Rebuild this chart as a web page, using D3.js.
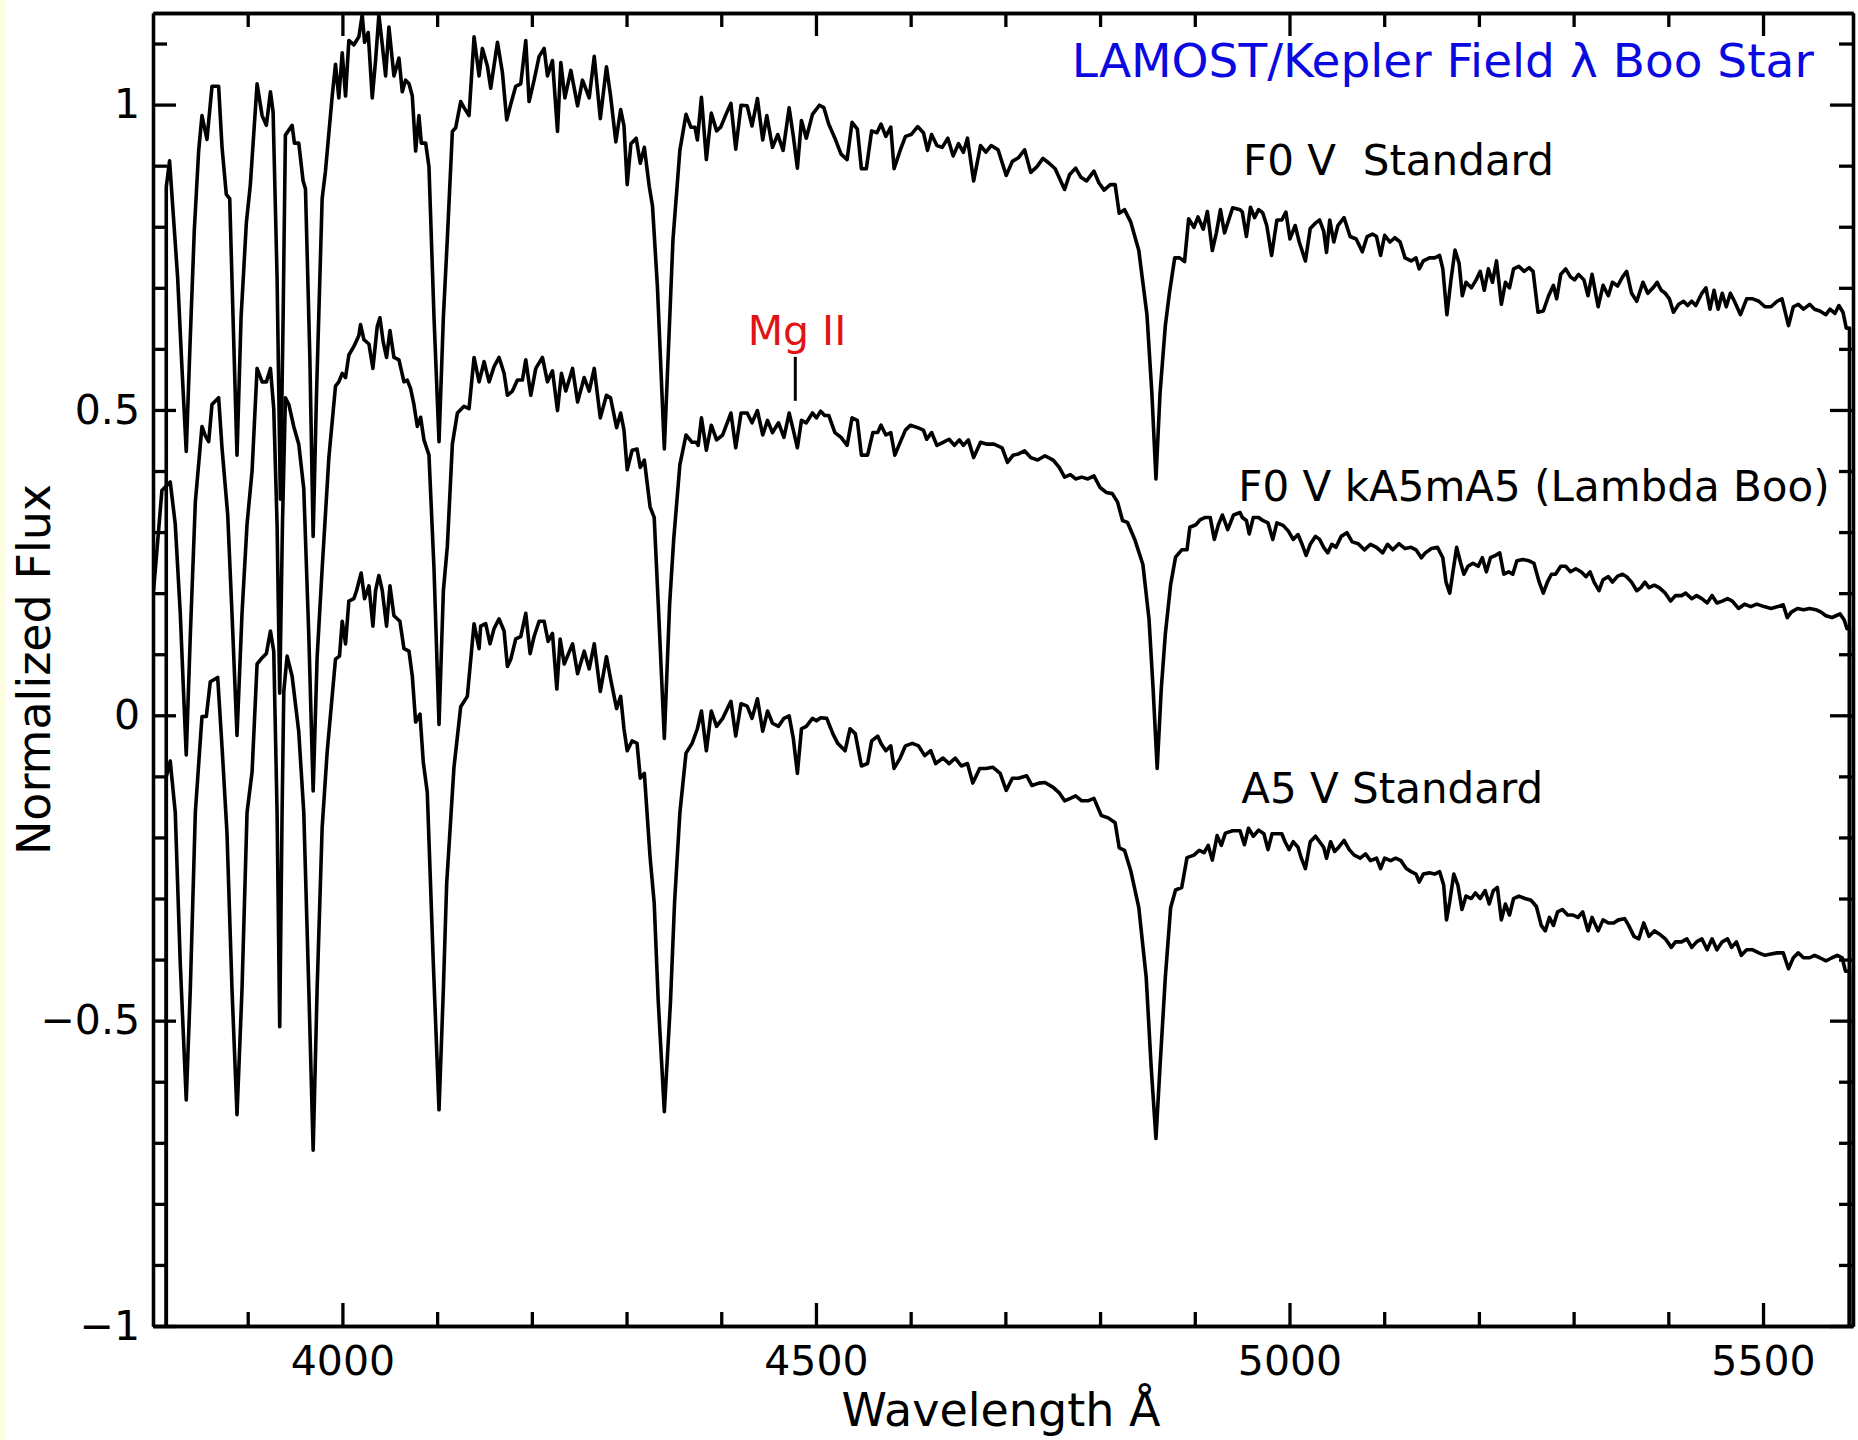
<!DOCTYPE html>
<html>
<head>
<meta charset="utf-8">
<script src="https://cdn.jsdelivr.net/npm/d3@7"></script>
<style>
  body { margin: 0; background: #fff; }
  svg { display: block; font-family: "DejaVu Sans", sans-serif; }
</style>
</head>
<body>
<svg id="chart" width="1858" height="1440"></svg>
<script>
// spectra: [wavelength (A), normalized flux]
// F0 V standard (top)
const f0Standard = [
  [3814.0,-1.0],[3814.0,0.865],[3817.5,0.908],[3826.0,0.717],[3830.6,0.568],[3835.1,0.432],[3839.4,0.620],
  [3843.6,0.794],[3848.2,0.924],[3851.7,0.982],[3857.0,0.943],[3862.3,1.030],[3869.3,1.030],[3872.9,0.930],
  [3877.4,0.853],[3881.0,0.846],[3884.5,0.652],[3888.7,0.426],[3893.0,0.652],[3898.6,0.807],[3902.8,0.869],
  [3909.9,1.034],[3915.2,0.982],[3919.7,0.966],[3924.0,1.021],[3926.8,0.988],[3931.0,0.717],[3934.5,0.354],
  [3937.4,0.652],[3939.8,0.950],[3946.9,0.966],[3949.3,0.937],[3953.9,0.937],[3958.5,0.875],[3961.0,0.862],
  [3965.6,0.587],[3969.1,0.293],[3972.6,0.523],[3978.6,0.846],[3982.1,0.891],[3989.2,1.014],[3992.7,1.066],
  [3996.2,1.011],[3999.8,1.085],[4003.3,1.014],[4006.8,1.105],[4012.1,1.098],[4017.4,1.111],[4020.9,1.147],
  [4023.4,1.102],[4027.2,1.118],[4031.5,1.011],[4035.0,1.072],[4038.5,1.147],[4042.1,1.098],[4045.6,1.047],
  [4049.1,1.127],[4054.4,1.047],[4059.7,1.076],[4063.2,1.021],[4066.7,1.040],[4070.3,1.034],[4073.8,1.014],
  [4077.3,0.924],[4080.8,0.982],[4083.3,0.937],[4087.9,0.937],[4091.4,0.898],[4096.7,0.652],[4102.0,0.448],
  [4106.6,0.652],[4110.8,0.781],[4116.1,0.956],[4119.6,0.962],[4124.9,1.005],[4128.4,0.995],[4133.7,0.982],
  [4139.0,1.111],[4144.3,1.047],[4147.8,1.092],[4153.1,1.063],[4156.6,1.027],[4163.7,1.102],[4168.9,1.053],
  [4173.5,0.975],[4177.8,1.001],[4183.0,1.030],[4188.3,1.034],[4193.6,1.105],[4197.1,1.005],[4202.4,1.040],
  [4207.7,1.079],[4213.0,1.092],[4216.5,1.047],[4221.8,1.072],[4227.1,0.956],[4230.6,1.069],[4234.9,1.011],
  [4241.2,1.056],[4248.3,0.998],[4253.5,1.040],[4260.6,1.011],[4265.9,1.079],[4272.3,0.977],[4278.8,1.062],
  [4283.1,1.015],[4288.7,0.939],[4293.8,0.992],[4297.3,0.965],[4300.7,0.869],[4304.6,0.936],[4310.2,0.945],
  [4314.5,0.904],[4318.8,0.930],[4324.0,0.866],[4327.4,0.834],[4332.6,0.702],[4339.9,0.436],[4349.0,0.778],
  [4356.3,0.925],[4362.8,0.984],[4367.9,0.963],[4372.2,0.963],[4374.8,0.942],[4379.1,1.012],[4384.3,0.910],
  [4389.5,0.986],[4395.1,0.957],[4399.4,0.963],[4405.0,0.984],[4410.2,1.002],[4415.3,0.927],[4420.9,0.999],
  [4427.4,0.998],[4432.5,0.965],[4438.2,1.010],[4443.8,0.942],[4448.1,0.982],[4454.1,0.930],[4459.7,0.951],
  [4465.3,0.925],[4471.7,0.995],[4476.1,0.948],[4480.4,0.896],[4484.7,0.974],[4489.8,0.945],[4496.3,0.984],
  [4503.6,0.999],[4508.4,0.995],[4513.5,0.968],[4520.0,0.945],[4526.5,0.919],[4532.9,0.910],[4538.1,0.971],
  [4543.7,0.960],[4548.0,0.895],[4553.2,0.895],[4558.8,0.957],[4564.4,0.954],[4568.7,0.968],[4573.8,0.948],
  [4579.0,0.963],[4582.5,0.895],[4588.9,0.925],[4594.5,0.948],[4600.5,0.951],[4607.4,0.964],[4613.5,0.954],
  [4617.8,0.925],[4622.1,0.951],[4627.7,0.933],[4633.3,0.930],[4639.3,0.945],[4644.9,0.916],[4650.5,0.936],
  [4655.7,0.922],[4660.0,0.945],[4666.5,0.875],[4673.8,0.933],[4679.4,0.922],[4685.0,0.933],[4692.3,0.926],
  [4700.9,0.884],[4707.4,0.907],[4713.8,0.913],[4720.3,0.926],[4726.8,0.889],[4733.2,0.898],[4739.7,0.912],
  [4746.2,0.904],[4752.6,0.895],[4762.5,0.861],[4767.7,0.885],[4774.2,0.896],[4779.8,0.881],[4785.8,0.875],
  [4793.5,0.891],[4798.7,0.872],[4804.3,0.860],[4810.8,0.869],[4815.9,0.869],[4820.2,0.822],[4825.8,0.828],
  [4832.3,0.808],[4840.9,0.761],[4849.5,0.656],[4854.7,0.527],[4859.0,0.387],[4863.3,0.527],[4868.9,0.638],
  [4873.2,0.691],[4878.8,0.749],[4884.0,0.749],[4889.2,0.743],[4893.5,0.813],[4899.1,0.799],[4903.4,0.816],
  [4909.0,0.796],[4913.3,0.825],[4918.5,0.761],[4922.8,0.790],[4927.1,0.828],[4931.4,0.790],[4940.0,0.831],
  [4947.8,0.828],[4950.2,0.824],[4954.5,0.784],[4958.8,0.832],[4963.1,0.815],[4967.4,0.828],[4971.7,0.823],
  [4976.0,0.802],[4981.1,0.753],[4986.7,0.811],[4991.9,0.811],[4996.2,0.824],[5000.5,0.780],[5006.0,0.802],
  [5010.3,0.775],[5016.8,0.744],[5021.9,0.797],[5027.5,0.806],[5031.8,0.811],[5036.1,0.793],[5039.1,0.758],
  [5042.5,0.811],[5046.8,0.775],[5051.1,0.802],[5057.6,0.815],[5064.0,0.784],[5070.4,0.780],[5076.9,0.759],
  [5082.0,0.784],[5087.6,0.788],[5091.9,0.784],[5096.2,0.753],[5100.5,0.786],[5106.1,0.775],[5111.2,0.782],
  [5116.8,0.775],[5122.0,0.749],[5128.4,0.744],[5133.6,0.749],[5137.0,0.731],[5141.3,0.744],[5147.7,0.749],
  [5153.3,0.749],[5158.5,0.753],[5161.9,0.731],[5166.2,0.656],[5170.5,0.713],[5174.8,0.762],[5179.1,0.740],
  [5182.5,0.687],[5186.4,0.709],[5192.0,0.700],[5197.1,0.713],[5201.4,0.727],[5205.7,0.696],[5210.0,0.731],
  [5214.3,0.709],[5218.6,0.744],[5223.7,0.673],[5228.0,0.709],[5232.3,0.700],[5236.6,0.731],[5242.2,0.735],
  [5247.8,0.727],[5253.0,0.733],[5257.2,0.727],[5262.4,0.660],[5268.0,0.662],[5273.6,0.687],[5278.7,0.704],
  [5282.1,0.682],[5286.4,0.722],[5291.6,0.731],[5296.7,0.718],[5301.0,0.713],[5305.3,0.722],[5310.9,0.713],
  [5315.2,0.687],[5319.5,0.722],[5325.9,0.669],[5331.1,0.704],[5336.7,0.687],[5341.0,0.709],[5346.5,0.703],
  [5351.7,0.718],[5356.0,0.727],[5361.2,0.691],[5366.7,0.678],[5373.2,0.709],[5378.3,0.691],[5383.9,0.700],
  [5388.2,0.709],[5392.5,0.696],[5396.8,0.691],[5401.1,0.682],[5405.4,0.660],[5411.0,0.673],[5416.1,0.678],
  [5420.4,0.671],[5424.7,0.678],[5429.0,0.671],[5435.4,0.691],[5439.7,0.700],[5444.0,0.665],[5448.3,0.696],
  [5452.6,0.665],[5456.9,0.691],[5461.2,0.669],[5465.5,0.691],[5469.8,0.678],[5476.2,0.656],[5482.7,0.682],
  [5489.1,0.682],[5495.6,0.678],[5502.0,0.669],[5508.4,0.669],[5514.9,0.678],[5520.0,0.682],[5526.9,0.638],
  [5532.0,0.669],[5537.2,0.673],[5542.8,0.665],[5549.2,0.673],[5554.4,0.665],[5560.0,0.662],[5566.4,0.656],
  [5570.7,0.665],[5575.9,0.658],[5580.1,0.671],[5584.4,0.660],[5587.9,0.634],[5591.3,0.634],[5591.3,-1.0]
];

// F0 V kA5mA5 (Lambda Boo), middle
const lambdaBoo = [
  [3800.6,0.204],[3809.4,0.368],[3818.2,0.382],[3823.5,0.313],[3828.8,0.167],[3832.3,0.036],[3835.1,-0.065],
  [3839.4,0.131],[3844.7,0.349],[3851.7,0.473],[3855.2,0.458],[3858.8,0.448],[3862.3,0.509],[3869.3,0.520],
  [3872.9,0.437],[3878.9,0.328],[3883.4,0.167],[3888.7,-0.033],[3894.0,0.167],[3899.3,0.313],[3904.6,0.400],
  [3909.9,0.568],[3915.2,0.546],[3919.7,0.546],[3924.0,0.568],[3927.5,0.502],[3931.0,0.313],[3933.8,0.036],
  [3936.7,0.313],[3939.8,0.520],[3943.4,0.509],[3948.6,0.473],[3953.9,0.444],[3959.2,0.371],[3964.5,0.131],
  [3969.1,-0.124],[3973.3,0.095],[3978.6,0.240],[3985.7,0.422],[3992.7,0.539],[3996.2,0.546],[3999.8,0.560],
  [4003.3,0.553],[4006.8,0.590],[4012.1,0.604],[4017.4,0.622],[4019.1,0.640],[4022.7,0.615],[4028.0,0.608],
  [4032.2,0.568],[4036.8,0.637],[4039.6,0.651],[4043.1,0.611],[4046.6,0.586],[4050.2,0.630],[4054.4,0.586],
  [4059.7,0.582],[4065.0,0.546],[4068.5,0.549],[4072.0,0.535],[4075.5,0.509],[4079.1,0.473],[4082.6,0.488],
  [4086.1,0.451],[4091.4,0.426],[4096.7,0.240],[4102.0,-0.015],[4106.6,0.204],[4110.8,0.277],[4116.1,0.444],
  [4121.4,0.495],[4128.4,0.506],[4133.7,0.502],[4139.0,0.586],[4144.3,0.546],[4149.6,0.579],[4154.9,0.546],
  [4160.1,0.571],[4165.4,0.586],[4170.7,0.560],[4174.2,0.524],[4179.5,0.531],[4184.8,0.549],[4190.1,0.549],
  [4193.6,0.582],[4198.9,0.524],[4204.2,0.568],[4211.2,0.586],[4216.5,0.546],[4221.8,0.564],[4227.1,0.499],
  [4231.3,0.560],[4235.9,0.531],[4243.0,0.568],[4248.3,0.513],[4255.3,0.553],[4260.6,0.531],[4265.9,0.568],
  [4272.3,0.487],[4278.8,0.524],[4283.1,0.520],[4289.5,0.471],[4293.8,0.495],[4297.3,0.467],[4300.7,0.402],
  [4305.9,0.434],[4311.1,0.436],[4314.5,0.406],[4318.8,0.418],[4324.9,0.341],[4329.2,0.324],[4333.5,0.182],
  [4339.9,-0.038],[4345.5,0.182],[4349.8,0.288],[4356.3,0.410],[4362.8,0.459],[4369.2,0.447],[4373.5,0.447],
  [4375.7,0.442],[4379.1,0.487],[4384.3,0.434],[4389.5,0.475],[4395.1,0.451],[4401.5,0.459],[4410.2,0.495],
  [4415.3,0.438],[4420.9,0.495],[4427.4,0.495],[4432.5,0.479],[4438.2,0.499],[4443.8,0.459],[4448.9,0.483],
  [4454.1,0.463],[4460.5,0.479],[4466.2,0.455],[4471.7,0.495],[4476.1,0.467],[4480.4,0.438],[4484.7,0.483],
  [4489.8,0.479],[4496.3,0.495],[4500.6,0.487],[4505.0,0.498],[4509.2,0.491],[4513.5,0.491],[4520.0,0.463],
  [4526.5,0.455],[4532.9,0.442],[4538.1,0.487],[4543.7,0.483],[4548.0,0.426],[4554.5,0.426],[4560.1,0.463],
  [4565.2,0.463],[4568.7,0.475],[4573.8,0.459],[4579.0,0.463],[4583.3,0.426],[4588.9,0.447],[4594.5,0.467],
  [4599.7,0.475],[4607.4,0.471],[4613.5,0.467],[4617.0,0.452],[4622.1,0.463],[4627.7,0.442],[4634.2,0.447],
  [4640.6,0.452],[4646.2,0.442],[4651.4,0.451],[4655.7,0.442],[4660.9,0.451],[4666.5,0.422],[4673.8,0.447],
  [4680.7,0.444],[4688.0,0.444],[4696.6,0.438],[4702.2,0.414],[4708.2,0.426],[4713.8,0.428],[4720.3,0.433],
  [4726.8,0.422],[4734.1,0.418],[4741.8,0.425],[4750.5,0.418],[4756.9,0.406],[4762.5,0.390],[4768.6,0.394],
  [4774.2,0.387],[4780.6,0.390],[4787.1,0.387],[4793.5,0.392],[4800.0,0.373],[4806.5,0.365],[4812.9,0.363],
  [4818.5,0.349],[4823.7,0.319],[4828.9,0.316],[4836.6,0.288],[4845.2,0.247],[4851.7,0.157],[4856.0,0.043],
  [4860.3,-0.087],[4864.6,0.043],[4868.9,0.133],[4874.5,0.214],[4879.7,0.259],[4886.2,0.271],[4891.8,0.271],
  [4894.8,0.308],[4901.2,0.312],[4905.5,0.320],[4911.1,0.324],[4916.3,0.324],[4920.6,0.288],[4924.9,0.312],
  [4929.2,0.328],[4934.8,0.304],[4940.9,0.328],[4947.8,0.332],[4950.2,0.324],[4954.5,0.319],[4957.5,0.297],
  [4961.8,0.324],[4967.4,0.324],[4971.7,0.319],[4977.3,0.315],[4982.4,0.288],[4986.7,0.315],[4993.2,0.311],
  [4998.7,0.302],[5003.9,0.288],[5009.0,0.296],[5013.3,0.280],[5017.6,0.262],[5021.9,0.280],[5027.5,0.293],
  [5031.8,0.288],[5036.1,0.275],[5040.4,0.266],[5044.7,0.280],[5049.0,0.275],[5054.6,0.293],[5060.6,0.299],
  [5066.2,0.284],[5072.6,0.281],[5079.0,0.271],[5085.5,0.280],[5091.9,0.275],[5098.4,0.266],[5103.5,0.280],
  [5109.1,0.271],[5115.5,0.281],[5122.0,0.273],[5128.4,0.275],[5133.6,0.271],[5139.2,0.258],[5143.4,0.266],
  [5149.9,0.273],[5156.3,0.275],[5161.9,0.258],[5165.3,0.218],[5169.2,0.200],[5172.2,0.231],[5176.5,0.275],
  [5180.8,0.249],[5184.2,0.231],[5188.5,0.244],[5193.7,0.249],[5199.3,0.244],[5203.6,0.258],[5207.9,0.235],
  [5212.2,0.258],[5217.7,0.262],[5222.0,0.266],[5226.3,0.231],[5231.5,0.235],[5235.8,0.231],[5240.1,0.253],
  [5246.5,0.255],[5253.0,0.253],[5258.1,0.249],[5263.7,0.218],[5268.0,0.200],[5272.3,0.218],[5276.6,0.231],
  [5280.9,0.231],[5286.4,0.244],[5291.6,0.244],[5296.7,0.235],[5302.3,0.240],[5307.9,0.235],[5313.1,0.227],
  [5317.4,0.235],[5321.6,0.218],[5326.8,0.204],[5331.1,0.222],[5336.7,0.227],[5341.0,0.218],[5346.5,0.228],
  [5351.7,0.231],[5356.0,0.227],[5361.2,0.218],[5366.7,0.204],[5371.0,0.209],[5375.3,0.218],[5379.6,0.209],
  [5385.2,0.213],[5390.4,0.209],[5396.8,0.200],[5402.4,0.187],[5407.5,0.196],[5414.0,0.196],[5418.3,0.200],
  [5424.7,0.191],[5429.9,0.196],[5435.4,0.191],[5441.0,0.184],[5446.2,0.196],[5451.3,0.184],[5456.9,0.187],
  [5462.5,0.191],[5467.6,0.187],[5474.1,0.175],[5480.5,0.182],[5487.0,0.178],[5493.4,0.182],[5501.1,0.178],
  [5508.4,0.175],[5515.7,0.178],[5521.3,0.181],[5525.6,0.160],[5529.9,0.169],[5536.4,0.175],[5542.8,0.173],
  [5549.2,0.175],[5555.7,0.173],[5561.3,0.169],[5566.4,0.163],[5572.8,0.160],[5577.1,0.163],[5581.4,0.166],
  [5585.7,0.156],[5588.7,0.142],[5591.3,0.142],[5591.3,-1.0]
];

// A5 V standard (bottom)
const a5Standard = [
  [3814.0,-1.0],[3814.0,-0.101],[3818.2,-0.075],[3823.5,-0.159],[3828.8,-0.407],[3832.3,-0.531],[3835.1,-0.630],
  [3839.4,-0.448],[3844.7,-0.159],[3851.7,-0.002],[3856.3,-0.002],[3860.5,0.055],[3868.3,0.062],[3872.9,-0.052],
  [3878.1,-0.192],[3883.4,-0.448],[3888.7,-0.654],[3894.0,-0.448],[3899.3,-0.159],[3904.6,-0.093],[3909.9,0.084],
  [3914.1,0.092],[3919.7,0.101],[3924.0,0.138],[3927.5,0.105],[3931.0,-0.159],[3933.8,-0.510],[3936.3,-0.159],
  [3938.1,0.039],[3941.6,0.097],[3946.9,0.064],[3953.9,-0.027],[3959.2,-0.159],[3964.5,-0.448],[3969.1,-0.712],
  [3973.3,-0.448],[3978.6,-0.184],[3983.9,-0.060],[3992.7,0.092],[3996.9,0.097],[3999.8,0.154],[4003.3,0.117],
  [4006.8,0.187],[4012.1,0.191],[4014.9,0.204],[4019.8,0.233],[4023.4,0.191],[4028.0,0.212],[4032.2,0.146],
  [4035.0,0.204],[4038.5,0.229],[4042.1,0.204],[4046.6,0.146],[4050.2,0.212],[4054.4,0.163],[4060.7,0.154],
  [4065.0,0.109],[4070.3,0.105],[4073.8,0.064],[4077.3,-0.011],[4081.9,0.002],[4085.4,-0.077],[4089.6,-0.126],
  [4096.0,-0.407],[4102.0,-0.646],[4106.6,-0.448],[4110.1,-0.275],[4117.8,-0.085],[4124.9,0.014],[4131.9,0.031],
  [4139.0,0.150],[4144.3,0.109],[4146.0,0.146],[4151.3,0.150],[4155.9,0.117],[4160.1,0.142],[4165.4,0.158],
  [4170.7,0.138],[4174.2,0.080],[4177.8,0.092],[4183.0,0.125],[4188.3,0.129],[4193.6,0.167],[4198.2,0.101],
  [4202.4,0.129],[4207.7,0.154],[4213.0,0.154],[4217.2,0.121],[4221.8,0.134],[4226.4,0.043],[4229.9,0.125],
  [4234.2,0.084],[4243.0,0.117],[4248.3,0.068],[4255.3,0.105],[4260.6,0.076],[4265.9,0.117],[4272.3,0.039],
  [4278.8,0.096],[4283.1,0.060],[4289.5,0.011],[4293.8,0.031],[4297.3,-0.022],[4300.7,-0.058],[4305.9,-0.042],
  [4311.1,-0.046],[4314.5,-0.103],[4318.8,-0.095],[4324.9,-0.233],[4329.2,-0.307],[4333.5,-0.469],[4339.9,-0.649],
  [4346.4,-0.469],[4350.7,-0.307],[4356.3,-0.160],[4362.8,-0.062],[4369.2,-0.046],[4374.8,-0.022],[4379.1,0.007],
  [4384.3,-0.058],[4389.5,0.007],[4395.1,-0.018],[4401.5,-0.005],[4410.2,0.023],[4415.3,-0.034],[4420.9,0.019],
  [4427.4,0.015],[4432.5,-0.005],[4438.2,0.027],[4443.8,-0.026],[4448.9,0.007],[4454.1,-0.013],[4460.5,-0.018],
  [4466.2,-0.005],[4471.7,-0.001],[4476.1,-0.038],[4480.4,-0.095],[4484.7,-0.022],[4489.8,-0.018],[4496.3,-0.005],
  [4500.6,-0.009],[4505.0,-0.004],[4511.4,-0.005],[4517.8,-0.030],[4523.0,-0.046],[4530.8,-0.058],[4536.0,-0.022],
  [4541.5,-0.030],[4548.0,-0.083],[4554.5,-0.079],[4558.8,-0.042],[4565.2,-0.034],[4568.7,-0.046],[4573.8,-0.058],
  [4579.0,-0.050],[4582.5,-0.087],[4588.9,-0.070],[4594.5,-0.050],[4601.8,-0.046],[4608.3,-0.050],[4614.8,-0.066],
  [4621.2,-0.058],[4626.4,-0.079],[4634.2,-0.070],[4640.6,-0.079],[4647.1,-0.070],[4653.5,-0.083],[4660.0,-0.079],
  [4665.6,-0.111],[4672.9,-0.087],[4679.4,-0.087],[4686.7,-0.085],[4694.5,-0.095],[4700.9,-0.123],[4707.4,-0.103],
  [4713.8,-0.103],[4722.5,-0.099],[4728.1,-0.115],[4735.4,-0.111],[4741.8,-0.110],[4750.5,-0.118],[4756.9,-0.127],
  [4762.5,-0.140],[4768.6,-0.136],[4774.2,-0.132],[4780.6,-0.140],[4787.1,-0.140],[4793.5,-0.136],[4801.3,-0.164],
  [4808.6,-0.168],[4815.9,-0.176],[4820.2,-0.217],[4825.8,-0.221],[4832.3,-0.254],[4840.9,-0.315],[4848.7,-0.429],
  [4853.9,-0.575],[4859.0,-0.693],[4863.3,-0.575],[4868.9,-0.429],[4874.5,-0.315],[4879.7,-0.286],[4886.2,-0.282],
  [4891.8,-0.233],[4899.1,-0.229],[4904.7,-0.221],[4909.9,-0.225],[4914.2,-0.213],[4918.5,-0.237],[4923.6,-0.197],
  [4928.0,-0.213],[4932.3,-0.193],[4940.0,-0.189],[4947.8,-0.189],[4952.4,-0.212],[4956.7,-0.185],[4961.8,-0.198],
  [4967.4,-0.188],[4973.0,-0.194],[4977.3,-0.220],[4981.6,-0.194],[4986.7,-0.194],[4991.9,-0.194],[4995.3,-0.207],
  [4999.6,-0.220],[5003.9,-0.207],[5009.0,-0.216],[5012.5,-0.234],[5016.8,-0.251],[5021.9,-0.207],[5027.5,-0.198],
  [5031.8,-0.207],[5036.1,-0.216],[5039.1,-0.234],[5043.4,-0.207],[5047.7,-0.223],[5052.0,-0.216],[5057.6,-0.205],
  [5063.1,-0.220],[5068.3,-0.229],[5074.7,-0.234],[5080.3,-0.227],[5085.5,-0.238],[5091.9,-0.234],[5096.2,-0.251],
  [5100.5,-0.234],[5106.9,-0.238],[5112.1,-0.234],[5117.7,-0.238],[5123.3,-0.251],[5128.4,-0.256],[5133.6,-0.260],
  [5137.0,-0.273],[5141.3,-0.260],[5147.7,-0.258],[5153.3,-0.260],[5158.5,-0.256],[5162.8,-0.278],[5165.8,-0.335],
  [5169.2,-0.305],[5173.5,-0.260],[5177.8,-0.278],[5182.1,-0.318],[5186.4,-0.296],[5192.0,-0.300],[5196.3,-0.291],
  [5201.4,-0.300],[5206.6,-0.287],[5210.9,-0.309],[5215.2,-0.287],[5219.5,-0.282],[5223.7,-0.335],[5228.0,-0.309],
  [5232.3,-0.327],[5236.6,-0.300],[5242.2,-0.296],[5248.7,-0.300],[5255.1,-0.303],[5260.7,-0.313],[5265.8,-0.344],
  [5270.1,-0.353],[5274.4,-0.331],[5278.7,-0.344],[5283.0,-0.322],[5288.2,-0.318],[5293.7,-0.327],[5299.3,-0.327],
  [5304.5,-0.331],[5309.6,-0.322],[5315.2,-0.353],[5319.5,-0.331],[5325.9,-0.353],[5331.1,-0.335],[5336.7,-0.340],
  [5342.3,-0.340],[5347.4,-0.335],[5353.9,-0.333],[5358.1,-0.344],[5363.7,-0.362],[5368.9,-0.366],[5374.0,-0.340],
  [5379.6,-0.362],[5385.2,-0.353],[5390.4,-0.358],[5396.8,-0.366],[5403.2,-0.380],[5407.5,-0.371],[5414.0,-0.371],
  [5419.6,-0.366],[5424.7,-0.380],[5429.9,-0.371],[5435.4,-0.366],[5441.0,-0.384],[5446.2,-0.366],[5451.3,-0.384],
  [5456.9,-0.371],[5462.5,-0.366],[5466.8,-0.380],[5471.9,-0.371],[5477.1,-0.393],[5482.7,-0.384],[5489.1,-0.384],
  [5495.6,-0.389],[5502.0,-0.393],[5508.4,-0.391],[5514.9,-0.389],[5521.3,-0.389],[5526.9,-0.415],[5532.0,-0.397],
  [5537.2,-0.389],[5542.8,-0.397],[5549.2,-0.397],[5554.4,-0.393],[5560.0,-0.397],[5566.4,-0.402],[5572.8,-0.397],
  [5578.4,-0.393],[5583.6,-0.397],[5587.0,-0.419],[5591.3,-0.419],[5591.3,-1.0]
];

// axes
const xDomain = [3800, 5595];
const yDomain = [-1, 1.15];
const xMajor = [4000, 4500, 5000, 5500];
const xMinor = d3.range(3900, 5600, 100).filter(v => !xMajor.includes(v));
const yMajor = [-1, -0.5, 0, 0.5, 1];
const yMinor = d3.range(-0.9, 1.15, 0.1).map(v => Math.round(v * 10) / 10).filter(v => !yMajor.includes(v));

// labels placed at [wavelength, flux]
const specLabels = ["F0 V  Standard", "F0 V kA5mA5 (Lambda Boo)", "A5 V Standard"];
const specLabelPos = [[4951, 0.885], [4946, 0.351], [4949, -0.143]];
const titleText = "LAMOST/Kepler Field \u03bb Boo Star";
const titlePos = [4770, 1.046];
const mgLabel = "Mg II";
const mgPos = [4480, 0.606];
const mgTick = [4478.2, 0.515, 0.587];


//------------------------------------------------------------------------------
// Draw
//------------------------------------------------------------------------------
const svg = d3.select("#chart");
const margin = {left: 153, right: 5, top: 13, bottom: 114};
const W = +svg.attr("width"), H = +svg.attr("height");

svg.append("rect").attr("width", W).attr("height", H).attr("fill", "#fff");
svg.append("rect").attr("width", 6).attr("height", H).attr("fill", "#fdfde0");

const x = d3.scaleLinear().domain(xDomain).range([margin.left, W - margin.right]);
const y = d3.scaleLinear().domain(yDomain).range([H - margin.bottom, margin.top]);

const plotLeft = margin.left, plotRight = W - margin.right;
const plotTop = margin.top, plotBottom = H - margin.bottom;

svg.append("clipPath").attr("id", "plotclip")
  .append("rect")
  .attr("x", plotLeft).attr("y", plotTop)
  .attr("width", plotRight - plotLeft)
  .attr("height", plotBottom - plotTop);

const line = d3.line().x(d => x(d[0])).y(d => y(d[1]));

const plot = svg.append("g").attr("clip-path", "url(#plotclip)");
[f0Standard, lambdaBoo, a5Standard].forEach(s => {
  plot.append("path")
    .attr("d", line(s))
    .attr("fill", "none")
    .attr("stroke", "#000")
    .attr("stroke-width", 3.6)
    .attr("stroke-linejoin", "round");
});

// axes, ticks pointing inward on all sides
const fmtY = d => d < 0 ? "\u2212" + Math.abs(d) : String(d);

function styleAxis(g) {
  g.selectAll("path.domain").attr("stroke", "#000").attr("stroke-width", 3.3);
  g.selectAll(".tick line").attr("stroke", "#000").attr("stroke-width", 3.3);
  g.selectAll(".tick text").attr("fill", "#000")
    .style("font-family", "DejaVu Sans").style("font-size", "41px");
}

svg.append("g").attr("transform", `translate(0,${plotBottom})`)
  .call(d3.axisBottom(x).tickValues(xMajor).tickSize(-23).tickSizeOuter(0).tickPadding(20).tickFormat(d3.format("d")))
  .call(styleAxis);
svg.append("g").attr("transform", `translate(0,${plotBottom})`)
  .call(d3.axisBottom(x).tickValues(xMinor).tickSize(-14).tickSizeOuter(0).tickFormat(""))
  .call(styleAxis);
svg.append("g").attr("transform", `translate(0,${plotTop})`)
  .call(d3.axisTop(x).tickValues(xMajor).tickSize(-23).tickSizeOuter(0).tickFormat(""))
  .call(styleAxis);
svg.append("g").attr("transform", `translate(0,${plotTop})`)
  .call(d3.axisTop(x).tickValues(xMinor).tickSize(-14).tickSizeOuter(0).tickFormat(""))
  .call(styleAxis);

svg.append("g").attr("transform", `translate(${plotLeft},0)`)
  .call(d3.axisLeft(y).tickValues(yMajor).tickSize(-23).tickSizeOuter(0).tickPadding(13).tickFormat(fmtY))
  .call(styleAxis);
svg.append("g").attr("transform", `translate(${plotLeft},0)`)
  .call(d3.axisLeft(y).tickValues(yMinor).tickSize(-14).tickSizeOuter(0).tickFormat(""))
  .call(styleAxis);
svg.append("g").attr("transform", `translate(${plotRight},0)`)
  .call(d3.axisRight(y).tickValues(yMajor).tickSize(-23).tickSizeOuter(0).tickFormat(""))
  .call(styleAxis);
svg.append("g").attr("transform", `translate(${plotRight},0)`)
  .call(d3.axisRight(y).tickValues(yMinor).tickSize(-14).tickSizeOuter(0).tickFormat(""))
  .call(styleAxis);

// axis titles
svg.append("text")
  .attr("x", (plotLeft + plotRight) / 2 - 2).attr("y", 1426)
  .attr("text-anchor", "middle")
  .style("font-size", "46px")
  .text("Wavelength \u00c5");

svg.append("text")
  .attr("transform", `translate(50,${(plotTop + plotBottom) / 2})rotate(-90)`)
  .attr("text-anchor", "middle")
  .style("font-size", "46px")
  .text("Normalized Flux");

// annotations
svg.append("text")
  .attr("x", x(titlePos[0])).attr("y", y(titlePos[1]))
  .attr("fill", "#0a0ae0")
  .style("font-size", "47px")
  .text(titleText);

specLabels.forEach((t, i) => {
  svg.append("text")
    .attr("x", x(specLabelPos[i][0])).attr("y", y(specLabelPos[i][1]))
    .attr("fill", "#000")
    .style("font-size", "42px")
    .style("white-space", "pre")
    .text(t);
});

svg.append("text")
  .attr("x", x(mgPos[0])).attr("y", y(mgPos[1]))
  .attr("text-anchor", "middle")
  .attr("fill", "#e01414")
  .style("font-size", "41px")
  .text(mgLabel);

svg.append("line")
  .attr("x1", x(mgTick[0])).attr("x2", x(mgTick[0]))
  .attr("y1", y(mgTick[1])).attr("y2", y(mgTick[2]))
  .attr("stroke", "#000").attr("stroke-width", 3);
</script>
</body>
</html>
